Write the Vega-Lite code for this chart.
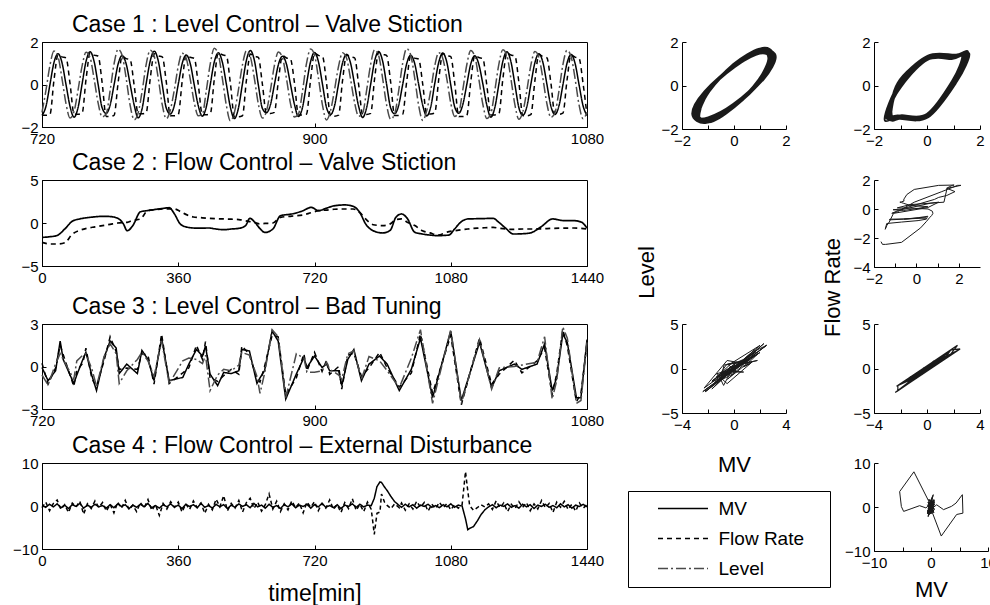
{
"$schema": "https://vega.github.io/schema/vega-lite/v6.json",
"padding": {"left": 12, "top": 13, "right": 0, "bottom": 0},
"background": "white",
"config": {
  "font": "Liberation Sans",
  "view": {"stroke": "black", "strokeWidth": 1},
  "axis": {"grid": false, "domainColor": "black", "tickColor": "black", "labelColor": "black", "labelFontSize": 15, "labelFont": "Liberation Sans", "tickSize": -4, "labelPadding": 8, "titleFont": "Liberation Sans", "titleFontWeight": "normal", "titleColor": "black", "titleFontSize": 22, "labelFlush": false, "labelOverlap": false, "labelBound": false, "format": "d"},
  "title": {"font": "Liberation Sans", "fontSize": 23, "fontWeight": "normal", "color": "black", "anchor": "start", "frame": "group", "dx": 30, "offset": -2},
  "legend": {"labelFont": "Liberation Sans", "labelFontSize": 19, "labelColor": "black"}
},
"resolve": {"scale": {"color": "independent", "strokeDash": "independent", "strokeWidth": "independent"}, "legend": {"color": "independent", "strokeDash": "independent", "strokeWidth": "independent"}},
"datasets": {
"c1": [
{"t":720.0,"MV":-1.45,"Flow Rate":-1.45,"Level":-1.31},{"t":722.6,"MV":-1.03,"Flow Rate":-1.45,"Level":-0.28},{"t":725.3,"MV":0.02,"Flow Rate":-1.40,"Level":0.92},{"t":727.9,"MV":1.03,"Flow Rate":0.20,"Level":1.58},{"t":730.6,"MV":1.45,"Flow Rate":1.40,"Level":1.31},{"t":733.2,"MV":1.03,"Flow Rate":1.30,"Level":0.28},{"t":735.9,"MV":-0.02,"Flow Rate":1.25,"Level":-0.92},{"t":738.5,"MV":-1.03,"Flow Rate":0.05,"Level":-1.58},
{"t":741.2,"MV":-1.54,"Flow Rate":-1.40,"Level":-1.26},{"t":743.8,"MV":-1.09,"Flow Rate":-1.40,"Level":-0.27},{"t":746.5,"MV":0.03,"Flow Rate":-1.35,"Level":0.88},{"t":749.1,"MV":1.09,"Flow Rate":0.25,"Level":1.52},{"t":751.8,"MV":1.54,"Flow Rate":1.48,"Level":1.26},{"t":754.4,"MV":1.09,"Flow Rate":1.38,"Level":0.27},{"t":757.1,"MV":-0.01,"Flow Rate":1.33,"Level":-0.88},{"t":759.7,"MV":-1.09,"Flow Rate":0.10,"Level":-1.52},
{"t":762.4,"MV":-1.36,"Flow Rate":-1.50,"Level":-1.38},{"t":765.0,"MV":-0.97,"Flow Rate":-1.50,"Level":-0.29},{"t":767.6,"MV":-0.02,"Flow Rate":-1.45,"Level":0.97},{"t":770.3,"MV":0.97,"Flow Rate":0.10,"Level":1.66},{"t":772.9,"MV":1.36,"Flow Rate":1.32,"Level":1.38},{"t":775.6,"MV":0.97,"Flow Rate":1.22,"Level":0.29},{"t":778.2,"MV":0.02,"Flow Rate":1.17,"Level":-0.97},{"t":780.9,"MV":-0.97,"Flow Rate":-0.05,"Level":-1.66},
{"t":783.5,"MV":-1.57,"Flow Rate":-1.38,"Level":-1.34},{"t":786.2,"MV":-1.11,"Flow Rate":-1.38,"Level":-0.29},{"t":788.8,"MV":0.04,"Flow Rate":-1.33,"Level":0.94},{"t":791.5,"MV":1.11,"Flow Rate":0.28,"Level":1.61},{"t":794.1,"MV":1.57,"Flow Rate":1.45,"Level":1.34},{"t":796.8,"MV":1.11,"Flow Rate":1.35,"Level":0.29},{"t":799.4,"MV":0.00,"Flow Rate":1.30,"Level":-0.94},{"t":802.1,"MV":-1.11,"Flow Rate":0.12,"Level":-1.61},
{"t":804.7,"MV":-1.39,"Flow Rate":-1.47,"Level":-1.22},{"t":807.4,"MV":-0.99,"Flow Rate":-1.47,"Level":-0.26},{"t":810.0,"MV":0.01,"Flow Rate":-1.42,"Level":0.86},{"t":812.6,"MV":0.99,"Flow Rate":0.15,"Level":1.47},{"t":815.3,"MV":1.39,"Flow Rate":1.38,"Level":1.22},{"t":817.9,"MV":0.99,"Flow Rate":1.28,"Level":0.26},{"t":820.6,"MV":-0.03,"Flow Rate":1.23,"Level":-0.86},{"t":823.2,"MV":-0.99,"Flow Rate":0.02,"Level":-1.47},
{"t":825.9,"MV":-1.49,"Flow Rate":-1.42,"Level":-1.41},{"t":828.5,"MV":-1.06,"Flow Rate":-1.42,"Level":-0.30},{"t":831.2,"MV":0.02,"Flow Rate":-1.37,"Level":0.99},{"t":833.8,"MV":1.06,"Flow Rate":0.24,"Level":1.71},{"t":836.5,"MV":1.49,"Flow Rate":1.50,"Level":1.41},{"t":839.1,"MV":1.06,"Flow Rate":1.40,"Level":0.30},{"t":841.8,"MV":0.01,"Flow Rate":1.35,"Level":-0.99},{"t":844.4,"MV":-1.06,"Flow Rate":0.08,"Level":-1.71},
{"t":847.1,"MV":-1.60,"Flow Rate":-1.52,"Level":-1.31},{"t":849.7,"MV":-1.13,"Flow Rate":-1.52,"Level":-0.28},{"t":852.4,"MV":0.03,"Flow Rate":-1.47,"Level":0.92},{"t":855.0,"MV":1.13,"Flow Rate":0.18,"Level":1.58},{"t":857.6,"MV":1.60,"Flow Rate":1.43,"Level":1.31},{"t":860.3,"MV":1.13,"Flow Rate":1.33,"Level":0.28},{"t":862.9,"MV":-0.02,"Flow Rate":1.28,"Level":-0.92},{"t":865.6,"MV":-1.13,"Flow Rate":0.00,"Level":-1.58},
{"t":868.2,"MV":-1.33,"Flow Rate":-1.36,"Level":-1.27},{"t":870.9,"MV":-0.95,"Flow Rate":-1.36,"Level":-0.27},{"t":873.5,"MV":-0.01,"Flow Rate":-1.31,"Level":0.89},{"t":876.2,"MV":0.95,"Flow Rate":0.22,"Level":1.53},{"t":878.8,"MV":1.33,"Flow Rate":1.35,"Level":1.27},{"t":881.5,"MV":0.95,"Flow Rate":1.25,"Level":0.27},{"t":884.1,"MV":0.02,"Flow Rate":1.20,"Level":-0.89},{"t":886.8,"MV":-0.95,"Flow Rate":0.06,"Level":-1.53},
{"t":889.4,"MV":-1.51,"Flow Rate":-1.44,"Level":-1.39},{"t":892.1,"MV":-1.07,"Flow Rate":-1.44,"Level":-0.30},{"t":894.7,"MV":0.02,"Flow Rate":-1.39,"Level":0.98},{"t":897.4,"MV":1.07,"Flow Rate":0.21,"Level":1.67},{"t":900.0,"MV":1.51,"Flow Rate":1.47,"Level":1.39},{"t":902.6,"MV":1.07,"Flow Rate":1.37,"Level":0.30},{"t":905.3,"MV":0.00,"Flow Rate":1.32,"Level":-0.98},{"t":907.9,"MV":-1.07,"Flow Rate":0.09,"Level":-1.67},
{"t":910.6,"MV":-1.42,"Flow Rate":-1.49,"Level":-1.23},{"t":913.2,"MV":-1.01,"Flow Rate":-1.49,"Level":-0.26},{"t":915.9,"MV":0.03,"Flow Rate":-1.44,"Level":0.86},{"t":918.5,"MV":1.01,"Flow Rate":0.17,"Level":1.49},{"t":921.2,"MV":1.42,"Flow Rate":1.40,"Level":1.23},{"t":923.8,"MV":1.01,"Flow Rate":1.30,"Level":0.26},{"t":926.5,"MV":-0.01,"Flow Rate":1.25,"Level":-0.86},{"t":929.1,"MV":-1.01,"Flow Rate":0.03,"Level":-1.49},
{"t":931.8,"MV":-1.55,"Flow Rate":-1.41,"Level":-1.35},{"t":934.4,"MV":-1.10,"Flow Rate":-1.41,"Level":-0.29},{"t":937.1,"MV":0.01,"Flow Rate":-1.36,"Level":0.95},{"t":939.7,"MV":1.10,"Flow Rate":0.27,"Level":1.63},{"t":942.4,"MV":1.55,"Flow Rate":1.52,"Level":1.35},{"t":945.0,"MV":1.10,"Flow Rate":1.42,"Level":0.29},{"t":947.6,"MV":0.02,"Flow Rate":1.37,"Level":-0.95},{"t":950.3,"MV":-1.10,"Flow Rate":0.11,"Level":-1.63},
{"t":952.9,"MV":-1.38,"Flow Rate":-1.46,"Level":-1.40},{"t":955.6,"MV":-0.98,"Flow Rate":-1.46,"Level":-0.30},{"t":958.2,"MV":-0.02,"Flow Rate":-1.41,"Level":0.98},{"t":960.9,"MV":0.98,"Flow Rate":0.14,"Level":1.69},{"t":963.5,"MV":1.38,"Flow Rate":1.34,"Level":1.40},{"t":966.2,"MV":0.98,"Flow Rate":1.24,"Level":0.30},{"t":968.8,"MV":0.01,"Flow Rate":1.19,"Level":-0.98},{"t":971.5,"MV":-0.98,"Flow Rate":0.01,"Level":-1.69},
{"t":974.1,"MV":-1.48,"Flow Rate":-1.39,"Level":-1.24},{"t":976.8,"MV":-1.05,"Flow Rate":-1.39,"Level":-0.27},{"t":979.4,"MV":0.03,"Flow Rate":-1.34,"Level":0.87},{"t":982.1,"MV":1.05,"Flow Rate":0.26,"Level":1.50},{"t":984.7,"MV":1.48,"Flow Rate":1.46,"Level":1.24},{"t":987.4,"MV":1.05,"Flow Rate":1.36,"Level":0.27},{"t":990.0,"MV":-0.02,"Flow Rate":1.31,"Level":-0.87},{"t":992.6,"MV":-1.05,"Flow Rate":0.07,"Level":-1.50},
{"t":995.3,"MV":-1.35,"Flow Rate":-1.51,"Level":-1.32},{"t":997.9,"MV":-0.96,"Flow Rate":-1.51,"Level":-0.28},{"t":1000.6,"MV":0.00,"Flow Rate":-1.46,"Level":0.93},{"t":1003.2,"MV":0.96,"Flow Rate":0.12,"Level":1.60},{"t":1005.9,"MV":1.35,"Flow Rate":1.37,"Level":1.32},{"t":1008.5,"MV":0.96,"Flow Rate":1.27,"Level":0.28},{"t":1011.2,"MV":0.03,"Flow Rate":1.22,"Level":-0.93},{"t":1013.8,"MV":-0.96,"Flow Rate":-0.02,"Level":-1.60},
{"t":1016.5,"MV":-1.54,"Flow Rate":-1.43,"Level":-1.36},{"t":1019.1,"MV":-1.09,"Flow Rate":-1.43,"Level":-0.29},{"t":1021.8,"MV":0.02,"Flow Rate":-1.38,"Level":0.96},{"t":1024.4,"MV":1.09,"Flow Rate":0.25,"Level":1.64},{"t":1027.1,"MV":1.54,"Flow Rate":1.49,"Level":1.36},{"t":1029.7,"MV":1.09,"Flow Rate":1.39,"Level":0.29},{"t":1032.4,"MV":-0.01,"Flow Rate":1.34,"Level":-0.96},{"t":1035.0,"MV":-1.09,"Flow Rate":0.10,"Level":-1.64},
{"t":1037.6,"MV":-1.45,"Flow Rate":-1.47,"Level":-1.28},{"t":1040.3,"MV":-1.03,"Flow Rate":-1.47,"Level":-0.27},{"t":1042.9,"MV":0.01,"Flow Rate":-1.42,"Level":0.90},{"t":1045.6,"MV":1.03,"Flow Rate":0.19,"Level":1.55},{"t":1048.2,"MV":1.45,"Flow Rate":1.41,"Level":1.28},{"t":1050.9,"MV":1.03,"Flow Rate":1.31,"Level":0.27},{"t":1053.5,"MV":0.02,"Flow Rate":1.26,"Level":-0.90},{"t":1056.2,"MV":-1.03,"Flow Rate":0.04,"Level":-1.55},
{"t":1058.8,"MV":-1.41,"Flow Rate":-1.40,"Level":-1.34},{"t":1061.5,"MV":-1.00,"Flow Rate":-1.40,"Level":-0.29},{"t":1064.1,"MV":-0.01,"Flow Rate":-1.35,"Level":0.94},{"t":1066.8,"MV":1.00,"Flow Rate":0.20,"Level":1.61},{"t":1069.4,"MV":1.41,"Flow Rate":1.39,"Level":1.34},{"t":1072.1,"MV":1.00,"Flow Rate":1.29,"Level":0.29},{"t":1074.7,"MV":0.01,"Flow Rate":1.24,"Level":-0.94},{"t":1077.4,"MV":-1.00,"Flow Rate":0.05,"Level":-1.61},
{"t":1080.0,"MV":-1.45,"Flow Rate":-1.45,"Level":-1.31}
],
"c2": [
{"t":0,"MV":-1.67,"Flow Rate":-2.25},{"t":20,"MV":-1.60,"Flow Rate":-2.44},{"t":40,"MV":-1.45,"Flow Rate":-2.44},{"t":60,"MV":-0.70,"Flow Rate":-2.30},{"t":80,"MV":0.20,"Flow Rate":-1.30},{"t":100,"MV":0.48,"Flow Rate":-0.85},{"t":120,"MV":0.62,"Flow Rate":-0.60},{"t":140,"MV":0.72,"Flow Rate":-0.45},{"t":160,"MV":0.78,"Flow Rate":-0.30},{"t":180,"MV":0.75,"Flow Rate":-0.15},{"t":200,"MV":0.55,"Flow Rate":0.00},{"t":215,"MV":-0.10,"Flow Rate":0.05},{"t":225,"MV":-0.90,"Flow Rate":0.08},{"t":240,"MV":-0.30,"Flow Rate":0.30},{"t":260,"MV":1.30,"Flow Rate":0.47},{"t":280,"MV":1.45,"Flow Rate":1.45},{"t":300,"MV":1.58,"Flow Rate":1.55},{"t":320,"MV":1.70,"Flow Rate":1.63},{"t":336,"MV":1.78,"Flow Rate":1.65},{"t":350,"MV":1.05,"Flow Rate":1.63},{"t":365,"MV":-0.10,"Flow Rate":1.35},{"t":380,"MV":-0.45,"Flow Rate":1.00},{"t":400,"MV":-0.58,"Flow Rate":0.70},{"t":420,"MV":-0.60,"Flow Rate":0.62},{"t":440,"MV":-0.58,"Flow Rate":0.55},{"t":460,"MV":-0.70,"Flow Rate":0.50},{"t":480,"MV":-0.78,"Flow Rate":0.47},{"t":500,"MV":-0.70,"Flow Rate":0.44},{"t":520,"MV":-0.62,"Flow Rate":0.40},{"t":538,"MV":-0.30,"Flow Rate":0.25},{"t":549,"MV":0.54,"Flow Rate":0.16},{"t":562,"MV":0.10,"Flow Rate":0.05},{"t":575,"MV":-0.60,"Flow Rate":-0.10},{"t":589,"MV":-1.10,"Flow Rate":-0.05},{"t":610,"MV":-0.70,"Flow Rate":0.00},{"t":630,"MV":0.85,"Flow Rate":0.66},{"t":660,"MV":1.05,"Flow Rate":0.80},{"t":690,"MV":1.43,"Flow Rate":0.93},{"t":711,"MV":1.82,"Flow Rate":1.20},{"t":731,"MV":1.43,"Flow Rate":1.43},{"t":750,"MV":1.70,"Flow Rate":1.50},{"t":772,"MV":2.00,"Flow Rate":1.60},{"t":800,"MV":2.10,"Flow Rate":1.63},{"t":822,"MV":1.94,"Flow Rate":1.63},{"t":840,"MV":1.20,"Flow Rate":1.20},{"t":855,"MV":-0.10,"Flow Rate":0.47},{"t":875,"MV":-0.90,"Flow Rate":-0.20},{"t":900,"MV":-1.16,"Flow Rate":-0.30},{"t":920,"MV":-0.85,"Flow Rate":-0.10},{"t":935,"MV":0.66,"Flow Rate":0.40},{"t":950,"MV":1.05,"Flow Rate":0.47},{"t":965,"MV":0.54,"Flow Rate":0.10},{"t":985,"MV":-1.08,"Flow Rate":-0.30},{"t":1005,"MV":-1.28,"Flow Rate":-0.90},{"t":1025,"MV":-1.40,"Flow Rate":-1.15},{"t":1045,"MV":-1.47,"Flow Rate":-1.40},{"t":1075,"MV":-1.40,"Flow Rate":-1.00},{"t":1090,"MV":-0.70,"Flow Rate":-0.90},{"t":1106,"MV":0.08,"Flow Rate":-0.80},{"t":1125,"MV":0.47,"Flow Rate":-0.70},{"t":1150,"MV":0.50,"Flow Rate":-0.60},{"t":1170,"MV":0.52,"Flow Rate":-0.55},{"t":1192,"MV":0.54,"Flow Rate":-0.50},{"t":1207,"MV":0.08,"Flow Rate":-0.60},{"t":1225,"MV":-0.60,"Flow Rate":-0.70},{"t":1245,"MV":-1.28,"Flow Rate":-0.75},{"t":1270,"MV":-1.25,"Flow Rate":-0.70},{"t":1290,"MV":-1.16,"Flow Rate":-0.70},{"t":1320,"MV":-0.40,"Flow Rate":-0.68},{"t":1349,"MV":0.47,"Flow Rate":-0.62},{"t":1380,"MV":0.27,"Flow Rate":-0.60},{"t":1405,"MV":0.27,"Flow Rate":-0.58},{"t":1425,"MV":0.10,"Flow Rate":-0.62},{"t":1440,"MV":-0.58,"Flow Rate":-0.70}
],
"c3": [
{"t":720,"MV":-0.07,"Flow Rate":0.23,"Level":-0.6},{"t":724,"MV":-1.0,"Flow Rate":-1.25,"Level":-1.3},{"t":729,"MV":-0.3,"Flow Rate":-0.1,"Level":0.2},{"t":732,"MV":1.8,"Flow Rate":1.5,"Level":0.9},{"t":734,"MV":0.5,"Flow Rate":0.85,"Level":0.5},{"t":741,"MV":-1.2,"Flow Rate":-1.4,"Level":-0.9},{"t":743,"MV":-0.6,"Flow Rate":-0.3,"Level":0.4},{"t":747,"MV":0.5,"Flow Rate":0.25,"Level":0.8},{"t":749,"MV":1.0,"Flow Rate":1.3,"Level":0.9},{"t":753,"MV":-0.65,"Flow Rate":-0.9,"Level":-0.2},{"t":756,"MV":-1.7,"Flow Rate":-1.4,"Level":-1.4},{"t":761,"MV":0.63,"Flow Rate":0.4,"Level":0.7},{"t":765,"MV":1.8,"Flow Rate":2.1,"Level":1.6},{"t":769,"MV":1.3,"Flow Rate":1.05,"Level":0.9},{"t":771,"MV":-0.5,"Flow Rate":-0.2,"Level":-1.2},{"t":776,"MV":0.17,"Flow Rate":-0.1,"Level":-0.3},{"t":783,"MV":-0.5,"Flow Rate":-0.2,"Level":0.5},{"t":786,"MV":1.14,"Flow Rate":0.9,"Level":1.0},{"t":790,"MV":0.5,"Flow Rate":0.8,"Level":0.4},{"t":794,"MV":-1.0,"Flow Rate":-1.25,"Level":-0.7},{"t":799,"MV":2.0,"Flow Rate":2.3,"Level":1.8},{"t":804,"MV":-1.0,"Flow Rate":-1.2,"Level":-1.2},{"t":813,"MV":-0.77,"Flow Rate":-0.45,"Level":0.4},{"t":817,"MV":0.17,"Flow Rate":-0.1,"Level":0.6},{"t":822,"MV":1.2,"Flow Rate":1.5,"Level":0.5},{"t":826,"MV":0.74,"Flow Rate":0.5,"Level":0.2},{"t":828,"MV":1.45,"Flow Rate":1.75,"Level":0.8},{"t":831,"MV":-0.53,"Flow Rate":-0.8,"Level":-1.7},{"t":836,"MV":-1.35,"Flow Rate":-1.05,"Level":-0.6},{"t":840,"MV":-0.42,"Flow Rate":-0.65,"Level":-0.2},{"t":845,"MV":-0.5,"Flow Rate":-0.2,"Level":-0.3},{"t":850,"MV":-0.3,"Flow Rate":-0.55,"Level":0.1},{"t":852,"MV":1.2,"Flow Rate":1.45,"Level":1.0},{"t":857,"MV":1.1,"Flow Rate":0.85,"Level":0.8},{"t":862,"MV":-1.2,"Flow Rate":-0.9,"Level":-0.7},{"t":864,"MV":-0.8,"Flow Rate":-1.1,"Level":-1.9},{"t":867,"MV":-0.3,"Flow Rate":0.0,"Level":-0.5},{"t":872,"MV":2.5,"Flow Rate":2.2,"Level":2.6},{"t":876,"MV":1.8,"Flow Rate":2.1,"Level":2.1},{"t":881,"MV":-2.3,"Flow Rate":-2.0,"Level":-2.2},{"t":888,"MV":-0.53,"Flow Rate":-0.8,"Level":0.9},{"t":893,"MV":0.63,"Flow Rate":0.9,"Level":0.6},{"t":895,"MV":-0.07,"Flow Rate":-0.3,"Level":-0.4},{"t":900,"MV":0.74,"Flow Rate":1.0,"Level":-0.4},{"t":905,"MV":-0.07,"Flow Rate":-0.35,"Level":-0.3},{"t":908,"MV":0.17,"Flow Rate":0.45,"Level":0.3},{"t":910,"MV":-0.3,"Flow Rate":-0.55,"Level":-0.2},{"t":916,"MV":-0.3,"Flow Rate":0.0,"Level":-0.6},{"t":918,"MV":-1.35,"Flow Rate":-1.6,"Level":-0.9},{"t":922,"MV":0.5,"Flow Rate":0.8,"Level":0.9},{"t":926,"MV":1.2,"Flow Rate":0.95,"Level":1.1},{"t":931,"MV":-1.0,"Flow Rate":-0.7,"Level":-0.9},{"t":936,"MV":0.17,"Flow Rate":-0.1,"Level":0.7},{"t":943,"MV":0.74,"Flow Rate":1.0,"Level":0.4},{"t":948,"MV":0.17,"Flow Rate":-0.1,"Level":-0.3},{"t":956,"MV":-1.7,"Flow Rate":-1.45,"Level":-1.5},{"t":964,"MV":-0.19,"Flow Rate":-0.45,"Level":0.6},{"t":970,"MV":2.0,"Flow Rate":2.3,"Level":2.6},{"t":978,"MV":-2.2,"Flow Rate":-1.9,"Level":-2.6},{"t":990,"MV":2.5,"Flow Rate":2.2,"Level":2.6},{"t":997,"MV":-2.4,"Flow Rate":-2.7,"Level":-2.6},{"t":1009,"MV":1.7,"Flow Rate":2.0,"Level":1.9},{"t":1017,"MV":-1.5,"Flow Rate":-1.25,"Level":-1.6},{"t":1022,"MV":-0.3,"Flow Rate":-0.55,"Level":-0.1},{"t":1032,"MV":0.17,"Flow Rate":0.45,"Level":0.0},{"t":1037,"MV":-0.2,"Flow Rate":-0.45,"Level":0.1},{"t":1047,"MV":0.17,"Flow Rate":0.4,"Level":0.3},{"t":1052,"MV":1.6,"Flow Rate":1.3,"Level":2.1},{"t":1057,"MV":-1.7,"Flow Rate":-2.0,"Level":-2.3},{"t":1060,"MV":-0.8,"Flow Rate":-0.5,"Level":-1.0},{"t":1064,"MV":2.3,"Flow Rate":2.6,"Level":2.8},{"t":1067,"MV":1.7,"Flow Rate":1.45,"Level":2.0},{"t":1073,"MV":-2.2,"Flow Rate":-2.5,"Level":-2.6},{"t":1076,"MV":-2.2,"Flow Rate":-1.9,"Level":-2.4},{"t":1080,"MV":1.9,"Flow Rate":1.65,"Level":1.7}
],
"c4": [
{"t":0,"MV":0.1,"Flow Rate":-0.4},{"t":10,"MV":-0.3,"Flow Rate":0.9},{"t":20,"MV":0.4,"Flow Rate":-1.1},{"t":30,"MV":-0.2,"Flow Rate":0.6},{"t":40,"MV":0.5,"Flow Rate":1.4},{"t":50,"MV":-0.4,"Flow Rate":-0.8},{"t":60,"MV":0.2,"Flow Rate":0.3},{"t":70,"MV":-0.6,"Flow Rate":-1.5},{"t":80,"MV":0.3,"Flow Rate":0.7},{"t":90,"MV":-0.1,"Flow Rate":-0.2},{"t":100,"MV":0.6,"Flow Rate":1.1},{"t":110,"MV":-0.5,"Flow Rate":-1.9},{"t":120,"MV":0.2,"Flow Rate":0.5},{"t":130,"MV":-0.3,"Flow Rate":-0.6},{"t":140,"MV":0.4,"Flow Rate":1.2},{"t":150,"MV":-0.2,"Flow Rate":-0.3},{"t":160,"MV":0.1,"Flow Rate":0.8},{"t":170,"MV":-0.5,"Flow Rate":-1.2},{"t":180,"MV":0.3,"Flow Rate":0.4},{"t":190,"MV":-0.4,"Flow Rate":-1.6},{"t":200,"MV":0.5,"Flow Rate":0.9},{"t":210,"MV":-0.1,"Flow Rate":-0.5},{"t":220,"MV":0.3,"Flow Rate":1.3},{"t":230,"MV":-0.6,"Flow Rate":-0.9},{"t":240,"MV":0.2,"Flow Rate":0.2},{"t":250,"MV":-0.3,"Flow Rate":-1.3},{"t":260,"MV":0.4,"Flow Rate":0.8},{"t":270,"MV":-0.2,"Flow Rate":-0.4},{"t":280,"MV":0.6,"Flow Rate":1.5},{"t":290,"MV":-0.4,"Flow Rate":-1.0},{"t":300,"MV":0.1,"Flow Rate":0.3},{"t":310,"MV":-0.5,"Flow Rate":-2.2},{"t":320,"MV":0.3,"Flow Rate":0.6},{"t":330,"MV":-0.2,"Flow Rate":-0.7},{"t":340,"MV":0.5,"Flow Rate":1.0},{"t":350,"MV":-0.3,"Flow Rate":-0.3},{"t":360,"MV":0.2,"Flow Rate":0.9},{"t":370,"MV":-0.6,"Flow Rate":-1.4},{"t":380,"MV":0.4,"Flow Rate":0.5},{"t":390,"MV":-0.1,"Flow Rate":-0.8},{"t":400,"MV":0.3,"Flow Rate":1.2},{"t":410,"MV":-0.4,"Flow Rate":-0.4},{"t":420,"MV":0.6,"Flow Rate":0.7},{"t":430,"MV":-0.3,"Flow Rate":-1.7},{"t":440,"MV":0.1,"Flow Rate":0.4},{"t":450,"MV":-0.5,"Flow Rate":-0.9},{"t":460,"MV":0.4,"Flow Rate":1.6},{"t":470,"MV":-0.2,"Flow Rate":-0.2},{"t":480,"MV":0.3,"Flow Rate":2.4},{"t":490,"MV":-0.6,"Flow Rate":-1.1},{"t":500,"MV":0.2,"Flow Rate":0.6},{"t":510,"MV":-0.3,"Flow Rate":-0.5},{"t":520,"MV":0.5,"Flow Rate":1.3},{"t":530,"MV":-0.1,"Flow Rate":-1.4},{"t":540,"MV":0.3,"Flow Rate":0.8},{"t":550,"MV":-0.4,"Flow Rate":1.8},{"t":560,"MV":0.6,"Flow Rate":-0.6},{"t":570,"MV":-0.2,"Flow Rate":0.9},{"t":580,"MV":0.2,"Flow Rate":-1.2},{"t":590,"MV":-0.5,"Flow Rate":0.3},{"t":600,"MV":0.4,"Flow Rate":2.8},{"t":610,"MV":-0.3,"Flow Rate":-0.7},{"t":620,"MV":0.1,"Flow Rate":1.1},{"t":630,"MV":-0.6,"Flow Rate":-1.3},{"t":640,"MV":0.3,"Flow Rate":0.5},{"t":650,"MV":-0.2,"Flow Rate":-0.9},{"t":660,"MV":0.5,"Flow Rate":1.2},{"t":670,"MV":-0.4,"Flow Rate":-0.4},{"t":680,"MV":0.2,"Flow Rate":0.7},{"t":690,"MV":-0.1,"Flow Rate":-1.6},{"t":700,"MV":0.4,"Flow Rate":0.9},{"t":710,"MV":-0.5,"Flow Rate":-0.3},{"t":720,"MV":0.3,"Flow Rate":1.0},{"t":730,"MV":-0.2,"Flow Rate":-1.1},{"t":740,"MV":0.6,"Flow Rate":0.6},{"t":750,"MV":-0.3,"Flow Rate":-0.5},{"t":760,"MV":0.1,"Flow Rate":1.4},{"t":770,"MV":-0.4,"Flow Rate":-0.8},{"t":780,"MV":0.3,"Flow Rate":0.3},{"t":790,"MV":-0.6,"Flow Rate":-1.5},{"t":800,"MV":0.2,"Flow Rate":0.8},{"t":810,"MV":-0.1,"Flow Rate":-0.6},{"t":820,"MV":0.5,"Flow Rate":1.7},{"t":830,"MV":-0.3,"Flow Rate":-1.0},{"t":840,"MV":0.4,"Flow Rate":0.4},{"t":850,"MV":-0.2,"Flow Rate":-1.3},{"t":860,"MV":0.2,"Flow Rate":0.9},{"t":870,"MV":0.1,"Flow Rate":-0.8},{"t":878,"MV":1.8,"Flow Rate":-6.6},{"t":885,"MV":4.5,"Flow Rate":-1.7},{"t":893,"MV":5.6,"Flow Rate":-1.4},{"t":897,"MV":5.5,"Flow Rate":2.8},{"t":905,"MV":4.4,"Flow Rate":0.9},{"t":912,"MV":3.6,"Flow Rate":0.15},{"t":922,"MV":2.2,"Flow Rate":-0.6},{"t":932,"MV":1.0,"Flow Rate":0.5},{"t":944,"MV":0.1,"Flow Rate":-0.4},{"t":950,"MV":-0.3,"Flow Rate":0.7},{"t":960,"MV":0.4,"Flow Rate":-1.0},{"t":970,"MV":-0.2,"Flow Rate":0.5},{"t":980,"MV":0.3,"Flow Rate":-0.7},{"t":990,"MV":-0.5,"Flow Rate":1.1},{"t":1000,"MV":0.2,"Flow Rate":-0.3},{"t":1010,"MV":-0.1,"Flow Rate":0.8},{"t":1020,"MV":0.4,"Flow Rate":-1.2},{"t":1030,"MV":-0.3,"Flow Rate":0.4},{"t":1040,"MV":0.1,"Flow Rate":-0.6},{"t":1050,"MV":-0.4,"Flow Rate":0.9},{"t":1060,"MV":0.3,"Flow Rate":-0.4},{"t":1070,"MV":-0.2,"Flow Rate":0.6},{"t":1080,"MV":0.5,"Flow Rate":-0.9},{"t":1090,"MV":-0.3,"Flow Rate":0.3},{"t":1100,"MV":0.2,"Flow Rate":-0.5},{"t":1110,"MV":0.0,"Flow Rate":0.3},{"t":1119,"MV":-3.0,"Flow Rate":8.0},{"t":1125,"MV":-5.5,"Flow Rate":3.5},{"t":1130,"MV":-5.2,"Flow Rate":0.1},{"t":1140,"MV":-4.8,"Flow Rate":-1.0},{"t":1150,"MV":-3.5,"Flow Rate":-0.4},{"t":1160,"MV":-2.0,"Flow Rate":0.3},{"t":1170,"MV":-0.9,"Flow Rate":-0.2},{"t":1180,"MV":-0.2,"Flow Rate":0.5},{"t":1190,"MV":0.3,"Flow Rate":-0.8},{"t":1200,"MV":-0.4,"Flow Rate":1.2},{"t":1210,"MV":0.2,"Flow Rate":-0.4},{"t":1220,"MV":-0.1,"Flow Rate":0.7},{"t":1230,"MV":0.5,"Flow Rate":-1.3},{"t":1240,"MV":-0.3,"Flow Rate":0.4},{"t":1250,"MV":0.1,"Flow Rate":-0.6},{"t":1260,"MV":-0.5,"Flow Rate":1.0},{"t":1270,"MV":0.4,"Flow Rate":-0.3},{"t":1280,"MV":-0.2,"Flow Rate":0.8},{"t":1290,"MV":0.3,"Flow Rate":-1.1},{"t":1300,"MV":-0.6,"Flow Rate":0.5},{"t":1310,"MV":0.2,"Flow Rate":-0.7},{"t":1320,"MV":-0.1,"Flow Rate":1.3},{"t":1330,"MV":0.4,"Flow Rate":-0.4},{"t":1340,"MV":-0.3,"Flow Rate":0.6},{"t":1350,"MV":0.1,"Flow Rate":-1.5},{"t":1360,"MV":-0.4,"Flow Rate":0.9},{"t":1370,"MV":0.5,"Flow Rate":-0.3},{"t":1380,"MV":-0.2,"Flow Rate":1.1},{"t":1390,"MV":0.3,"Flow Rate":-0.8},{"t":1400,"MV":-0.5,"Flow Rate":0.4},{"t":1410,"MV":0.2,"Flow Rate":-1.2},{"t":1420,"MV":-0.1,"Flow Rate":0.7},{"t":1430,"MV":0.4,"Flow Rate":-0.5},{"t":1440,"MV":-0.2,"Flow Rate":0.3}
],
"leg": [{"s":"MV","x":0,"y":0},{"s":"Flow Rate","x":0,"y":0},{"s":"Level","x":0,"y":0}]
},
"columns": 5,
"bounds": "flush",
"spacing": 0,
"concat": [
  {"width": 545, "height": 85, "data": {"name": "c1"},
   "title": {"text": "Case 1 : Level Control – Valve Stiction"},
   "transform": [{"fold": ["MV", "Flow Rate", "Level"], "as": ["s", "v"]}],
   "mark": {"type": "line", "interpolate": "monotone"},
   "encoding": {
    "x": {"field": "t", "type": "quantitative", "scale": {"domain": [720, 1080], "nice": false, "zero": false}, "axis": {"values": [720, 900, 1080], "title": null}},
    "y": {"field": "v", "type": "quantitative", "scale": {"domain": [-2, 2], "nice": false}, "axis": {"values": [-2, 0, 2], "title": null}},
    "color": {"field": "s", "type": "nominal", "scale": {"domain": ["MV", "Flow Rate", "Level"], "range": ["#000000", "#000000", "#4a4a4a"]}, "legend": null},
    "strokeDash": {"field": "s", "type": "nominal", "scale": {"domain": ["MV", "Flow Rate", "Level"], "range": [[1, 0], [5, 4], [10, 3, 2, 3]]}, "legend": null},
    "strokeWidth": {"field": "s", "type": "nominal", "scale": {"domain": ["MV", "Flow Rate", "Level"], "range": [1.5, 1.5, 2.8]}, "legend": null}
   }},
  {"width": 95, "height": 1, "data": {"values": []}, "mark": "point", "view": {"stroke": null}},
  {"width": 104, "height": 87, "data": {"name": "c1"}, "view": {"stroke": null},
   "mark": {"type": "line", "interpolate": "cardinal", "color": "#1a1a1a", "strokeWidth": 2.2},
   "encoding": {
    "x": {"field": "MV", "type": "quantitative", "scale": {"domain": [-2, 2], "nice": false}, "axis": {"values": [-2, -1, 0, 1, 2], "labelExpr": "datum.value % 2 == 0 ? datum.label : ''", "title": null}},
    "y": {"field": "Level", "type": "quantitative", "scale": {"domain": [-2, 2], "nice": false}, "axis": {"values": [-2, 0, 2], "title": null}},
    "order": {"field": "t", "type": "quantitative"}
   }},
  {"width": 88, "height": 1, "data": {"values": []}, "mark": "point", "view": {"stroke": null}},
  {"width": 106, "height": 87, "data": {"name": "c1"}, "view": {"stroke": null},
   "mark": {"type": "line", "interpolate": "cardinal", "color": "#1a1a1a", "strokeWidth": 1.8},
   "encoding": {
    "x": {"field": "MV", "type": "quantitative", "scale": {"domain": [-2, 2], "nice": false}, "axis": {"values": [-2, -1, 0, 1, 2], "labelExpr": "datum.value % 2 == 0 ? datum.label : ''", "title": null}},
    "y": {"field": "Flow Rate", "type": "quantitative", "scale": {"domain": [-2, 2], "nice": false}, "axis": {"values": [-2, 0, 2], "title": null}},
    "order": {"field": "t", "type": "quantitative"}
   }},

  {"width": 1, "height": 51, "data": {"values": []}, "mark": "point", "view": {"stroke": null}},
  {"width": 1, "height": 1, "data": {"values": []}, "mark": "point", "view": {"stroke": null}},
  {"width": 1, "height": 1, "data": {"values": []}, "mark": "point", "view": {"stroke": null}},
  {"width": 1, "height": 1, "data": {"values": []}, "mark": "point", "view": {"stroke": null}},
  {"width": 1, "height": 1, "data": {"values": []}, "mark": "point", "view": {"stroke": null}},

  {"width": 545, "height": 86, "data": {"name": "c2"},
   "title": {"text": "Case 2 : Flow Control – Valve Stiction"},
   "transform": [{"fold": ["MV", "Flow Rate"], "as": ["s", "v"]}],
   "mark": {"type": "line", "interpolate": "monotone"},
   "encoding": {
    "x": {"field": "t", "type": "quantitative", "scale": {"domain": [0, 1440], "nice": false}, "axis": {"values": [0, 360, 720, 1080, 1440], "title": null}},
    "y": {"field": "v", "type": "quantitative", "scale": {"domain": [-5, 5], "nice": false}, "axis": {"values": [-5, 0, 5], "title": null}},
    "color": {"field": "s", "type": "nominal", "scale": {"domain": ["MV", "Flow Rate", "Level"], "range": ["#000000", "#000000", "#4a4a4a"]}, "legend": null},
    "strokeDash": {"field": "s", "type": "nominal", "scale": {"domain": ["MV", "Flow Rate", "Level"], "range": [[1, 0], [5, 4], [10, 3, 2, 3]]}, "legend": null},
    "strokeWidth": {"field": "s", "type": "nominal", "scale": {"domain": ["MV", "Flow Rate", "Level"], "range": [1.7, 1.7, 2.8]}, "legend": null}
   }},
  {"width": 95, "height": 1, "data": {"values": []}, "mark": "point", "view": {"stroke": null}},
  {"width": 104, "height": 1, "data": {"values": []}, "mark": "point", "view": {"stroke": null}},
  {"width": 88, "height": 1, "data": {"values": []}, "mark": "point", "view": {"stroke": null}},
  {"width": 106, "height": 87, "data": {"name": "c2"}, "view": {"stroke": null},
   "mark": {"type": "line", "color": "#1a1a1a", "strokeWidth": 1},
   "encoding": {
    "x": {"field": "MV", "type": "quantitative", "scale": {"domain": [-2, 3], "nice": false}, "axis": {"values": [-2, -1, 0, 1, 2], "labelExpr": "datum.value % 2 == 0 ? datum.label : ''", "title": null}},
    "y": {"field": "Flow Rate", "type": "quantitative", "scale": {"domain": [-4, 2], "nice": false}, "axis": {"values": [-4, -2, 0, 2], "title": null}},
    "order": {"field": "t", "type": "quantitative"}
   }},

  {"width": 1, "height": 57, "data": {"values": []}, "mark": "point", "view": {"stroke": null}},
  {"width": 1, "height": 1, "data": {"values": []}, "mark": "point", "view": {"stroke": null}},
  {"width": 1, "height": 1, "data": {"values": []}, "mark": "point", "view": {"stroke": null}},
  {"width": 1, "height": 1, "data": {"values": []}, "mark": "point", "view": {"stroke": null}},
  {"width": 1, "height": 1, "data": {"values": []}, "mark": "point", "view": {"stroke": null}},

  {"width": 545, "height": 85, "data": {"name": "c3"},
   "title": {"text": "Case 3 : Level Control – Bad Tuning"},
   "transform": [{"fold": ["MV", "Flow Rate", "Level"], "as": ["s", "v"]}],
   "mark": {"type": "line"},
   "encoding": {
    "x": {"field": "t", "type": "quantitative", "scale": {"domain": [720, 1080], "nice": false, "zero": false}, "axis": {"values": [720, 900, 1080], "title": null}},
    "y": {"field": "v", "type": "quantitative", "scale": {"domain": [-3, 3], "nice": false}, "axis": {"values": [-3, 0, 3], "title": null}},
    "color": {"field": "s", "type": "nominal", "scale": {"domain": ["MV", "Flow Rate", "Level"], "range": ["#000000", "#000000", "#4a4a4a"]}, "legend": null},
    "strokeDash": {"field": "s", "type": "nominal", "scale": {"domain": ["MV", "Flow Rate", "Level"], "range": [[1, 0], [5, 4], [10, 3, 2, 3]]}, "legend": null},
    "strokeWidth": {"field": "s", "type": "nominal", "scale": {"domain": ["MV", "Flow Rate", "Level"], "range": [1.5, 1.5, 2.8]}, "legend": null}
   }},
  {"width": 95, "height": 1, "data": {"values": []}, "mark": "point", "view": {"stroke": null}},
  {"width": 104, "height": 89, "data": {"name": "c3"}, "view": {"stroke": null},
   "mark": {"type": "line", "color": "#1a1a1a", "strokeWidth": 1},
   "encoding": {
    "x": {"field": "MV", "type": "quantitative", "scale": {"domain": [-4, 4], "nice": false}, "axis": {"values": [-4, -2, 0, 2, 4], "labelExpr": "datum.value % 4 == 0 ? datum.label : ''", "title": "MV", "titleY": 51, "titleBaseline": "middle"}},
    "y": {"field": "Level", "type": "quantitative", "scale": {"domain": [-5, 5], "nice": false}, "axis": {"values": [-5, 0, 5], "title": "Level", "titleX": -36, "titleY": -52, "titleAngle": 270, "titleAlign": "center", "titleBaseline": "middle"}},
    "order": {"field": "t", "type": "quantitative"}
   }},
  {"width": 88, "height": 1, "data": {"values": []}, "mark": "point", "view": {"stroke": null}},
  {"width": 106, "height": 89, "data": {"name": "c3"}, "view": {"stroke": null},
   "mark": {"type": "line", "color": "#1a1a1a", "strokeWidth": 1.2},
   "encoding": {
    "x": {"field": "MV", "type": "quantitative", "scale": {"domain": [-4, 4], "nice": false}, "axis": {"values": [-4, -2, 0, 2, 4], "labelExpr": "datum.value % 4 == 0 ? datum.label : ''", "title": null}},
    "y": {"field": "Flow Rate", "type": "quantitative", "scale": {"domain": [-5, 5], "nice": false}, "axis": {"values": [-5, 0, 5], "title": "Flow Rate", "titleX": -42, "titleY": -37, "titleAngle": 270, "titleAlign": "center", "titleBaseline": "middle"}},
    "order": {"field": "t", "type": "quantitative"}
   }},

  {"width": 1, "height": 50, "data": {"values": []}, "mark": "point", "view": {"stroke": null}},
  {"width": 1, "height": 1, "data": {"values": []}, "mark": "point", "view": {"stroke": null}},
  {"width": 1, "height": 1, "data": {"values": []}, "mark": "point", "view": {"stroke": null}},
  {"width": 1, "height": 1, "data": {"values": []}, "mark": "point", "view": {"stroke": null}},
  {"width": 1, "height": 1, "data": {"values": []}, "mark": "point", "view": {"stroke": null}},

  {"width": 545, "height": 86, "data": {"name": "c4"},
   "title": {"text": "Case 4 : Flow Control – External Disturbance"},
   "transform": [{"fold": ["MV", "Flow Rate"], "as": ["s", "v"]}],
   "mark": {"type": "line"},
   "encoding": {
    "x": {"field": "t", "type": "quantitative", "scale": {"domain": [0, 1440], "nice": false}, "axis": {"values": [0, 360, 720, 1080, 1440], "title": "time[min]", "titleFontSize": 23, "titleY": 44, "titleBaseline": "middle"}},
    "y": {"field": "v", "type": "quantitative", "scale": {"domain": [-10, 10], "nice": false}, "axis": {"values": [-10, 0, 10], "title": null}},
    "color": {"field": "s", "type": "nominal", "scale": {"domain": ["MV", "Flow Rate", "Level"], "range": ["#000000", "#000000", "#4a4a4a"]}, "legend": null},
    "strokeDash": {"field": "s", "type": "nominal", "scale": {"domain": ["MV", "Flow Rate", "Level"], "range": [[1, 0], [4, 3], [10, 3, 2, 3]]}, "legend": null},
    "strokeWidth": {"field": "s", "type": "nominal", "scale": {"domain": ["MV", "Flow Rate", "Level"], "range": [1.5, 1.5, 2.8]}, "legend": null}
   }},
  {"width": 95, "height": 1, "data": {"values": []}, "mark": "point", "view": {"stroke": null}},
  {"width": 104, "height": 121, "data": {"name": "leg"}, "view": {"stroke": null},
   "mark": {"type": "line"},
   "encoding": {
    "x": {"field": "x", "type": "quantitative", "axis": null},
    "y": {"field": "y", "type": "quantitative", "axis": null},
    "color": {"field": "s", "type": "nominal", "scale": {"domain": ["MV", "Flow Rate", "Level"], "range": ["#000000", "#000000", "#4a4a4a"]}, "legend": {"orient": "none", "legendX": -54, "legendY": 28, "title": null, "symbolType": "M-5,0H5", "symbolSize": 100, "symbolOffset": 37.5, "symbolStrokeWidth": 2, "labelOffset": 26, "rowPadding": 10, "padding": 8, "strokeColor": "black", "labelExpr": "datum.label + '\u2009\u2800'"}},
    "strokeDash": {"field": "s", "type": "nominal", "scale": {"domain": ["MV", "Flow Rate", "Level"], "range": [[1, 0], [5, 4], [10, 3, 2, 3]]}, "legend": {"orient": "none", "legendX": -54, "legendY": 28, "title": null, "symbolType": "M-5,0H5", "symbolSize": 100, "symbolOffset": 37.5, "symbolStrokeWidth": 2, "labelOffset": 26, "rowPadding": 10, "padding": 8, "strokeColor": "black", "labelExpr": "datum.label + '\u2009\u2800'"}},
    "strokeWidth": {"field": "s", "type": "nominal", "scale": {"domain": ["MV", "Flow Rate", "Level"], "range": [1.5, 1.5, 2.8]}, "legend": {"orient": "none", "legendX": -54, "legendY": 28, "title": null, "symbolType": "M-5,0H5", "symbolSize": 100, "symbolOffset": 37.5, "symbolStrokeWidth": 2, "labelOffset": 26, "rowPadding": 10, "padding": 8, "strokeColor": "black", "labelExpr": "datum.label + '\u2009\u2800'"}}
   }},
  {"width": 88, "height": 1, "data": {"values": []}, "mark": "point", "view": {"stroke": null}},
  {"width": 114, "height": 88, "data": {"name": "c4"}, "view": {"stroke": null},
   "mark": {"type": "line", "color": "#1a1a1a", "strokeWidth": 1},
   "encoding": {
    "x": {"field": "MV", "type": "quantitative", "scale": {"domain": [-10, 10], "nice": false}, "axis": {"values": [-10, -5, 0, 5, 10], "labelExpr": "datum.value % 10 == 0 ? datum.label : ''", "title": "MV", "titleY": 38, "titleBaseline": "middle"}},
    "y": {"field": "Flow Rate", "type": "quantitative", "scale": {"domain": [-10, 10], "nice": false}, "axis": {"values": [-10, 0, 10], "title": null}},
    "order": {"field": "t", "type": "quantitative"}
   }}
]
}
